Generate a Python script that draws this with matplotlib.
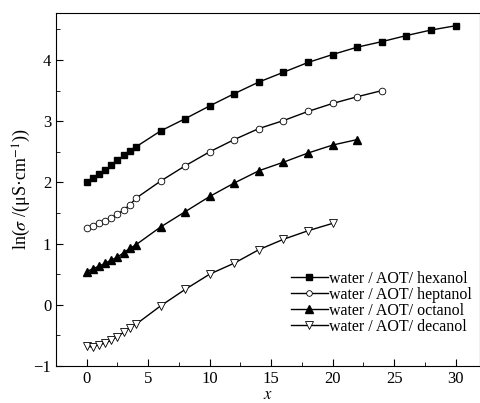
import numpy as np
import matplotlib
matplotlib.use("Agg")
import matplotlib.pyplot as plt
from matplotlib.ticker import MultipleLocator

plt.rcParams['font.family'] = ['Liberation Serif', 'DejaVu Serif']
plt.rcParams['mathtext.fontset'] = 'stix'

# water content x and ln(conductivity)
x_low = [0, 0.5, 1, 1.5, 2, 2.5, 3, 3.5, 4]

x_hex = x_low + [6, 8, 10, 12, 14, 16, 18, 20, 22, 24, 26, 28, 30]
y_hex = [2.00, 2.07, 2.13, 2.20, 2.28, 2.36, 2.44, 2.51, 2.58,
         2.84, 3.04, 3.25, 3.45, 3.64, 3.80, 3.96, 4.09, 4.21, 4.30, 4.40, 4.49, 4.56]

x_hep = x_low + [6, 8, 10, 12, 14, 16, 18, 20, 22, 24]
y_hep = [1.25, 1.29, 1.33, 1.37, 1.42, 1.48, 1.55, 1.63, 1.74,
         2.02, 2.27, 2.50, 2.70, 2.88, 3.01, 3.16, 3.29, 3.40, 3.50]

x_oct = x_low + [6, 8, 10, 12, 14, 16, 18, 20, 22]
y_oct = [0.54, 0.59, 0.63, 0.68, 0.73, 0.78, 0.85, 0.92, 0.98,
         1.27, 1.52, 1.77, 1.99, 2.19, 2.33, 2.48, 2.61, 2.70]

x_dec = x_low + [6, 8, 10, 12, 14, 16, 18, 20]
y_dec = [-0.68, -0.69, -0.65, -0.63, -0.58, -0.52, -0.45, -0.38, -0.32,
         -0.02, 0.25, 0.50, 0.68, 0.90, 1.07, 1.21, 1.33]

labels = ['water / AOT/ hexanol', 'water / AOT/ heptanol',
          'water / AOT/ octanol', 'water / AOT/ decanol']

fig = plt.figure(figsize=(4.81, 4.03), dpi=100)
ax = fig.add_axes([0.1164, 0.092, 0.882, 0.876])

ax.plot(x_hex, y_hex, '-', color='black', lw=1, marker='s', ms=5,
        mfc='black', mec='black', label=labels[0])
ax.plot(x_hep, y_hep, '-', color='black', lw=1, marker='o', ms=4.8,
        mfc='white', mec='black', mew=0.6, label=labels[1])
ax.plot(x_oct, y_oct, '-', color='black', lw=1, marker='^', ms=6,
        mfc='black', mec='black', label=labels[2])
ax.plot(x_dec, y_dec, '-', color='black', lw=1, marker='v', ms=6,
        mfc='white', mec='black', mew=0.6, label=labels[3])

ax.set_xlim(-2.5, 32)
ax.set_ylim(-1, 4.77)
ax.xaxis.set_major_locator(MultipleLocator(5))
ax.xaxis.set_minor_locator(MultipleLocator(2.5))
ax.yaxis.set_major_locator(MultipleLocator(1))
ax.yaxis.set_minor_locator(MultipleLocator(0.5))
ax.tick_params(which='both', direction='in', labelsize=12, top=False, right=False)
ax.tick_params(which='major', length=5)
ax.tick_params(which='minor', length=3)

ax.set_xlabel('$x$', fontsize=12, labelpad=0)
ax.set_ylabel('ln($\\sigma$ /(μS·cm$^{-1}$))', fontsize=13, labelpad=0)

ax.legend(loc='lower right', bbox_to_anchor=(1.0, 0.066), frameon=False,
          fontsize=11.5, handlelength=2.3, handletextpad=0.1, labelspacing=0.0,
          borderaxespad=0.1, markerscale=0.85)

fig.savefig('out.png', dpi=100)
